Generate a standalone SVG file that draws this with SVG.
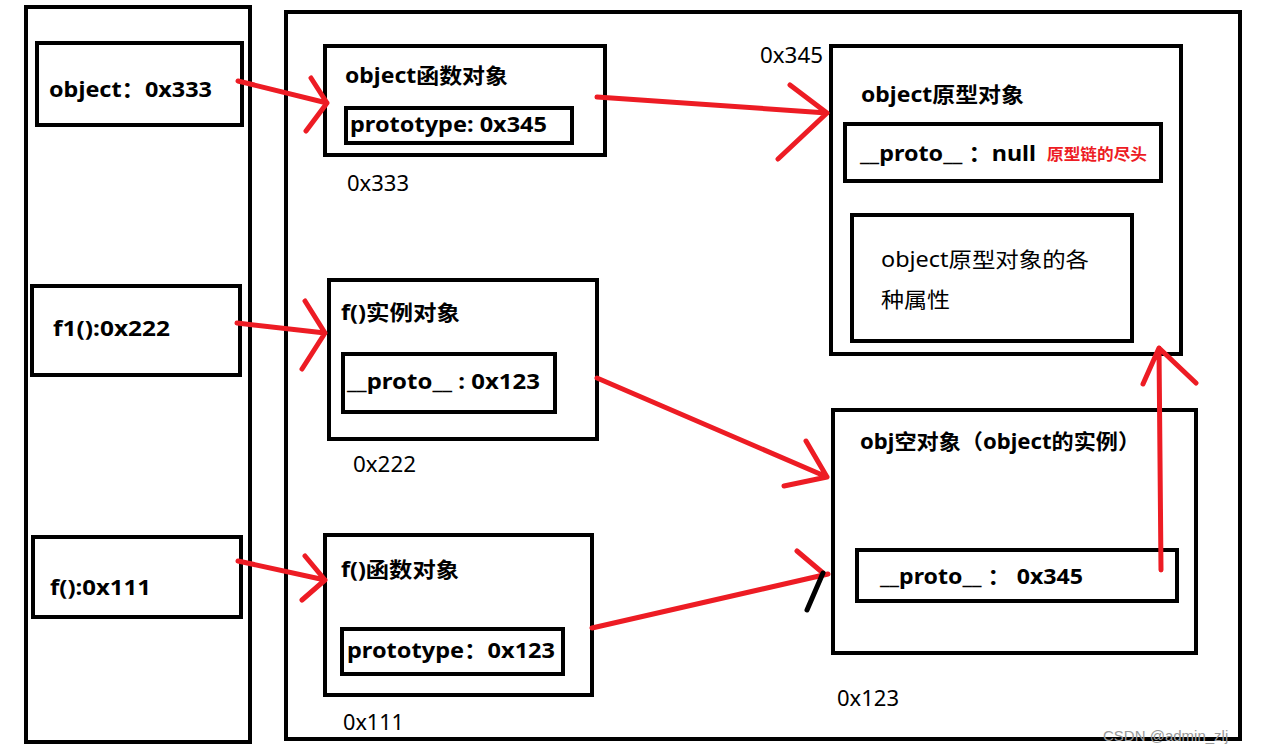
<svg xmlns="http://www.w3.org/2000/svg" width="1269" height="754" viewBox="0 0 1269 754">
<style>
.box{fill:none;stroke:#000;stroke-width:4}
text{lengthAdjust:spacingAndGlyphs}
.b{font-family:"Noto Sans","Noto Sans CJK SC",sans-serif;font-weight:bold;font-size:21px;fill:#000}
.r{font-family:"Noto Sans","Noto Sans CJK SC",sans-serif;font-size:21px;fill:#000}
.red{font-family:"Noto Sans CJK SC",sans-serif;font-weight:bold;font-size:16px;fill:#ed1c24}
.arr{fill:none;stroke:#ed1c24;stroke-width:5;stroke-linecap:round;stroke-linejoin:round}
.wm{font-family:"Liberation Sans",Arial,sans-serif;font-size:15px;fill:#999}
</style>
<rect width="1269" height="754" fill="#fff"/>
<g id="stack">
<rect class="box" x="26" y="7" width="224" height="735"/>
</g>
<g id="heap">
<rect class="box" x="286" y="12" width="954" height="727"/>
</g>
<g id="var-object">
<rect class="box" x="37" y="43" width="205" height="82"/>
<text class="b" x="49" y="97" textLength="163" lengthAdjust="spacingAndGlyphs">object：0x333</text>
</g>
<g id="var-f1">
<rect class="box" x="32" y="286" width="208" height="89"/>
<text class="b" x="53" y="336" textLength="117" lengthAdjust="spacingAndGlyphs">f1():0x222</text>
</g>
<g id="var-f">
<rect class="box" x="33" y="537" width="208" height="80"/>
<text class="b" x="50" y="595" textLength="101" lengthAdjust="spacingAndGlyphs">f():0x111</text>
</g>
<g id="object-func">
<rect class="box" x="325" y="46" width="280" height="109"/>
<text class="b" x="345" y="83" textLength="163" lengthAdjust="spacingAndGlyphs">object函数对象</text>
<rect class="box" x="346" y="108" width="226" height="35"/>
<text class="b" x="350" y="132" textLength="197" lengthAdjust="spacingAndGlyphs">prototype: 0x345</text>
<text class="r" x="347" y="191" textLength="62" lengthAdjust="spacingAndGlyphs">0x333</text>
</g>
<g id="object-proto">
<text class="r" x="760" y="63" textLength="63" lengthAdjust="spacingAndGlyphs">0x345</text>
<rect class="box" x="831" y="46" width="350" height="308"/>
<text class="b" x="861" y="102" textLength="163" lengthAdjust="spacingAndGlyphs">object原型对象</text>
<rect class="box" x="845" y="124" width="316" height="57"/>
<text class="b" x="860" y="161" textLength="176" lengthAdjust="spacingAndGlyphs">__proto__ ：null</text>
<text class="red" x="1047" y="160" textLength="100" lengthAdjust="spacingAndGlyphs">原型链的尽头</text>
<rect class="box" x="852" y="215" width="280" height="126"/>
<text class="r" x="881" y="267" textLength="208" lengthAdjust="spacingAndGlyphs">object原型对象的各</text>
<text class="r" x="881" y="307" textLength="69" lengthAdjust="spacingAndGlyphs">种属性</text>
</g>
<g id="f-instance">
<rect class="box" x="329" y="280" width="268" height="159"/>
<text class="b" x="341" y="320" textLength="119" lengthAdjust="spacingAndGlyphs">f()实例对象</text>
<rect class="box" x="343" y="354" width="212" height="58"/>
<text class="b" x="347" y="389" textLength="193" lengthAdjust="spacingAndGlyphs">__proto__ : 0x123</text>
<text class="r" x="353" y="472" textLength="63" lengthAdjust="spacingAndGlyphs">0x222</text>
</g>
<g id="f-func">
<rect class="box" x="325" y="535" width="267" height="160"/>
<text class="b" x="341" y="577" textLength="118" lengthAdjust="spacingAndGlyphs">f()函数对象</text>
<rect class="box" x="342" y="629" width="221" height="45"/>
<text class="b" x="347" y="658" textLength="208" lengthAdjust="spacingAndGlyphs">prototype：0x123</text>
<text class="r" x="343" y="730" textLength="61" lengthAdjust="spacingAndGlyphs">0x111</text>
</g>
<g id="obj-empty">
<rect class="box" x="833" y="410" width="363" height="243"/>
<text class="b" x="860" y="449" textLength="280" lengthAdjust="spacingAndGlyphs">obj空对象（object的实例）</text>
<rect class="box" x="857" y="550" width="320" height="51"/>
<text class="b" x="880" y="584" textLength="203" lengthAdjust="spacingAndGlyphs">__proto__ ： 0x345</text>
<text class="r" x="837" y="706" textLength="62" lengthAdjust="spacingAndGlyphs">0x123</text>
</g>
<g id="connectors">
<path class="arr" d="M238 81 L327 103 M311 78 L327 103 L306 131"/>
<path class="arr" d="M597 97 L827 113 M790 85 L827 113 L778 159"/>
<path class="arr" d="M237 323 L325 333 M305 301 L325 333 L302 369"/>
<path class="arr" d="M238 561 L325 580 M305 556 L325 580 L302 600"/>
<path class="arr" d="M597 378 L827 477 M806 441 L827 477 L784 486"/>
<path class="arr" d="M592 628 L828 574 M797 551 L823 573"/>
<path d="M823 573 L807 610" stroke="#000" stroke-width="5" stroke-linecap="round" fill="none"/>
<path class="arr" d="M1161 570 L1159 348 M1143 384 L1159 348 L1196 383"/>
</g>
<text class="wm" x="1103" y="741">CSDN @admin_zlj</text>
</svg>
